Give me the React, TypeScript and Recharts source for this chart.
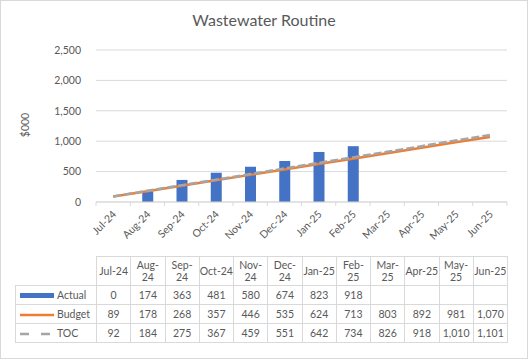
import { ComposedChart, Bar, Line, XAxis, YAxis, CartesianGrid } from 'recharts';

const months = ['Jul-24', 'Aug-24', 'Sep-24', 'Oct-24', 'Nov-24', 'Dec-24', 'Jan-25', 'Feb-25', 'Mar-25', 'Apr-25', 'May-25', 'Jun-25'];
const actual = [0, 174, 363, 481, 580, 674, 823, 918, null, null, null, null];
const budget = [89, 178, 268, 357, 446, 535, 624, 713, 803, 892, 981, 1070];
const toc = [92, 184, 275, 367, 459, 551, 642, 734, 826, 918, 1010, 1101];
const yTicks = [0, 500, 1000, 1500, 2000, 2500];
// header cells that break onto two lines in the table
const wrapped = ['Aug-24', 'Sep-24', 'Nov-24', 'Dec-24', 'Feb-25', 'Mar-25', 'May-25'];

const data = months.map((m, i) => ({ name: m, Actual: actual[i], Budget: budget[i], TOC: toc[i] }));

const W = 528;
const PLOT_LEFT = 96;
const PLOT_RIGHT = 21;
const BAND = (W - PLOT_LEFT - PLOT_RIGHT) / months.length;
const FONT = 'Lato, "Open Sans", sans-serif';
const TXT = '#595959';
const GRID = '#d9d9d9';

const fmt = (v: number | null) => (v == null ? '' : v.toLocaleString('en-US'));

const MonthTick = (props: any) => {
  const { x, y, payload, index } = props;
  const last = index === months.length - 1;
  const tx = x + 4;
  const ty = y + 13;
  return (
    <g>
      <line x1={x - BAND / 2} x2={x - BAND / 2} y1={y} y2={y + 4} stroke={GRID} />
      {last && <line x1={x + BAND / 2} x2={x + BAND / 2} y1={y} y2={y + 4} stroke={GRID} />}
      <text
        x={tx}
        y={ty}
        textAnchor="end"
        transform={`rotate(-45, ${tx}, ${ty})`}
        fontSize={10.5}
        fill={TXT}
        fontFamily={FONT}
      >
        {payload.value}
      </text>
    </g>
  );
};

const cell: React.CSSProperties = {
  border: `1px solid ${GRID}`,
  textAlign: 'center',
  padding: 0,
  color: TXT,
};

const Key = ({ kind }: { kind: string }) => {
  if (kind === 'Actual') {
    return (
      <svg width={36} height={8} style={{ verticalAlign: 'middle' }}>
        <rect x={1} y={1} width={34} height={5} fill="#4472C4" />
      </svg>
    );
  }
  if (kind === 'Budget') {
    return (
      <svg width={36} height={8} style={{ verticalAlign: 'middle' }}>
        <line x1={1} x2={35} y1={4} y2={4} stroke="#ED7D31" strokeWidth={2.5} />
      </svg>
    );
  }
  return (
    <svg width={36} height={8} style={{ verticalAlign: 'middle' }}>
      <line x1={1} x2={35} y1={4} y2={4} stroke="#A5A5A5" strokeWidth={2.5} strokeDasharray="9 12" />
    </svg>
  );
};

const rows = [
  { name: 'Actual', values: actual },
  { name: 'Budget', values: budget },
  { name: 'TOC', values: toc },
];

export default function App() {
  return (
    <div
      style={{
        position: 'absolute',
        left: 0,
        top: 0,
        width: W,
        height: 359,
        boxSizing: 'border-box',
        border: `1px solid ${GRID}`,
        background: '#fff',
        fontFamily: FONT,
      }}
    >
      <div
        style={{
          position: 'absolute',
          left: 0,
          top: 9,
          width: W - 2,
          textAlign: 'center',
          fontSize: 16,
          color: TXT,
        }}
      >
        Wastewater Routine
      </div>
      <div
        style={{
          position: 'absolute',
          left: 4,
          top: 118,
          width: 40,
          textAlign: 'center',
          fontSize: 10.5,
          color: TXT,
          transform: 'rotate(-90deg)',
        }}
      >
        $000
      </div>
      <div style={{ position: 'absolute', left: -1, top: -1 }}>
        <ComposedChart width={W} height={250} data={data} margin={{ top: 50, right: PLOT_RIGHT, bottom: 0, left: 0 }}>
          <CartesianGrid vertical={false} stroke={GRID} />
          <XAxis
            dataKey="name"
            interval={0}
            tickLine={false}
            tickSize={0}
            tickMargin={0}
            height={48}
            stroke={GRID}
            tick={<MonthTick />}
          />
          <YAxis
            domain={[0, 2500]}
            ticks={yTicks}
            width={PLOT_LEFT}
            axisLine={false}
            tickLine={false}
            tickMargin={9}
            tickFormatter={(v: number) => v.toLocaleString('en-US')}
            tick={{ fontSize: 10.5, fill: TXT, fontFamily: FONT }}
          />
          <Bar dataKey="Actual" fill="#4472C4" barSize={11} isAnimationActive={false} />
          <Line dataKey="Budget" stroke="#ED7D31" strokeWidth={2.5} dot={false} isAnimationActive={false} />
          <Line
            dataKey="TOC"
            stroke="#A5A5A5"
            strokeWidth={2.5}
            strokeDasharray="8 3"
            dot={false}
            isAnimationActive={false}
          />
        </ComposedChart>
      </div>
      <table
        style={{
          position: 'absolute',
          left: 14,
          top: 255,
          borderCollapse: 'collapse',
          tableLayout: 'fixed',
          fontSize: 10.5,
          fontFamily: FONT,
        }}
      >
        <colgroup>
          <col style={{ width: PLOT_LEFT - 15 }} />
          {months.map((m) => (
            <col key={m} style={{ width: BAND }} />
          ))}
        </colgroup>
        <tbody>
          <tr style={{ height: 29 }}>
            <td style={{ padding: 0, border: 'none', borderBottom: `1px solid ${GRID}` }} />
            {months.map((m) => {
              const [mo, yy] = m.split('-');
              return (
                <td key={m} style={{ ...cell, lineHeight: '12px' }}>
                  {wrapped.includes(m) ? (
                    <>
                      {mo}-
                      <br />
                      {yy}
                    </>
                  ) : (
                    m
                  )}
                </td>
              );
            })}
          </tr>
          {rows.map((r) => (
            <tr key={r.name} style={{ height: 19 }}>
              <td style={{ ...cell, textAlign: 'left', paddingLeft: 3, whiteSpace: 'nowrap' }}>
                <Key kind={r.name} />
                <span style={{ marginLeft: 2 }}>{r.name}</span>
              </td>
              {r.values.map((v, i) => (
                <td key={i} style={cell}>
                  {fmt(v)}
                </td>
              ))}
            </tr>
          ))}
        </tbody>
      </table>
    </div>
  );
}
